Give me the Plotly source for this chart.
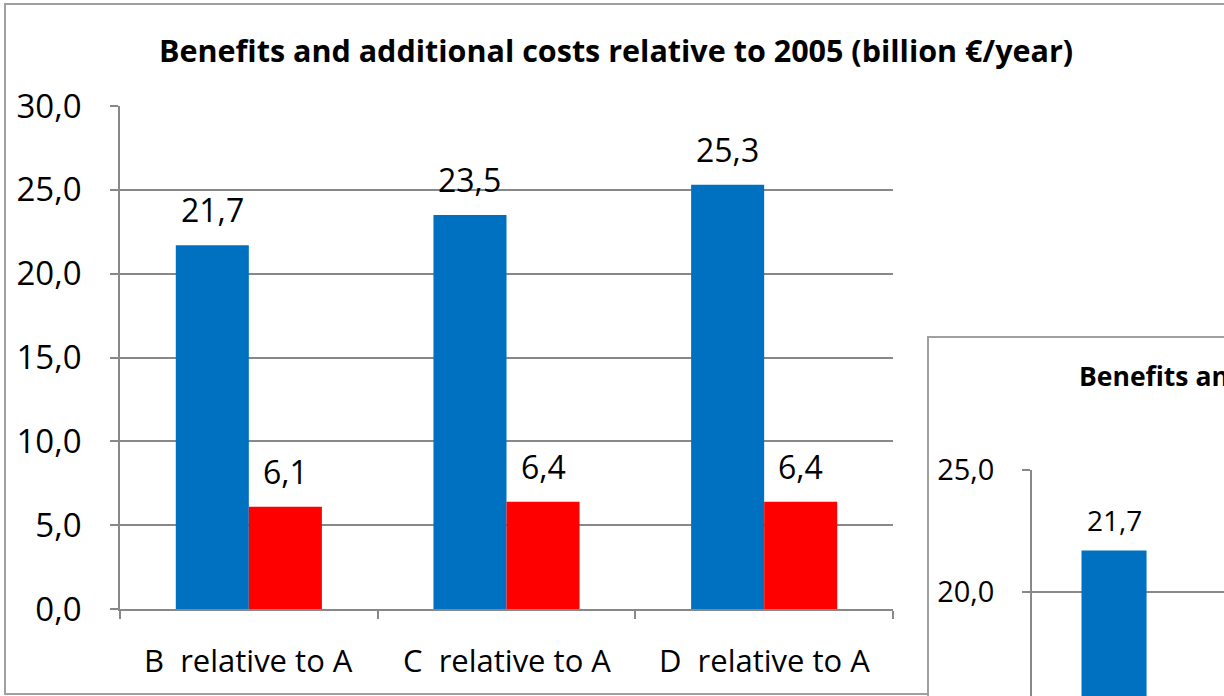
import plotly.graph_objects as go

W, H = 1224, 696

# Main chart data
categories = ["B  relative to A", "C  relative to A", "D  relative to A"]
benefits = [21.7, 23.5, 25.3]
additional_costs = [6.1, 6.4, 6.4]

# Second (overlapping) chart data, only the first bar falls inside the page
categories_2 = ["B  relative to A"]
benefits_2 = [21.7]

title_text = "Benefits and additional costs relative to 2005 (billion €/year)"

BLUE = "#0070C0"
RED = "#FF0000"
GRID = "#888888"
FRAME = "#A0A0A0"
FONT = "'Open Sans', Lato, sans-serif"


def px_x(x):
    return x / W


def px_y(y):
    return 1 - y / H


def fmt(v):
    return f"{v:.1f}".replace(".", ",")


fig = go.Figure()

fig.add_trace(go.Bar(x=categories, y=benefits, marker=dict(color=BLUE, line=dict(width=0)),
                     xaxis="x", yaxis="y", name="Benefits"))
fig.add_trace(go.Bar(x=categories, y=additional_costs, marker=dict(color=RED, line=dict(width=0)),
                     xaxis="x", yaxis="y", name="Additional costs"))

# Second chart: bar occupies the left half of its category slot
fig.add_trace(go.Bar(x=categories_2, y=benefits_2, marker=dict(color=BLUE, line=dict(width=0)),
                     width=0.284, offset=-0.284, xaxis="x2", yaxis="y2", name="Benefits"))

annotations = []
# Value labels above the main bars
for i, (b, c) in enumerate(zip(benefits, additional_costs)):
    annotations.append(dict(x=i - 0.142, y=b, xref="x", yref="y", text=fmt(b), showarrow=False,
                            yanchor="bottom", yshift=12, font=dict(size=32, color="black", family=FONT)))
    annotations.append(dict(x=i + 0.142, y=c, xref="x", yref="y", text=fmt(c), showarrow=False,
                            yanchor="bottom", yshift=12, font=dict(size=32, color="black", family=FONT)))
for i, b in enumerate(benefits_2):
    annotations.append(dict(x=i - 0.142, y=b, xref="x2", yref="y2", text=fmt(b), showarrow=False,
                            yanchor="bottom", yshift=10, font=dict(size=28, color="black", family=FONT)))

# Titles
annotations.append(dict(x=px_x(616), y=px_y(50), xref="paper", yref="paper", text=f"<b>{title_text}</b>",
                        showarrow=False, xanchor="center", yanchor="middle",
                        font=dict(size=30.5, color="black", family=FONT)))
annotations.append(dict(x=px_x(1077), y=px_y(376), xref="paper", yref="paper", text=f"<b>{title_text}</b>",
                        showarrow=False, xanchor="left", yanchor="middle",
                        font=dict(size=26.5, color="black", family=FONT)))

shapes = [
    # outer frame of the main chart
    dict(type="rect", xref="paper", yref="paper", x0=px_x(5), x1=px_x(1240), y0=px_y(694), y1=px_y(4),
         line=dict(color=FRAME, width=2), fillcolor="white", layer="below"),
    # frame of the second chart, on top of the first
    dict(type="rect", xref="paper", yref="paper", x0=px_x(928), x1=px_x(1260), y0=px_y(720), y1=px_y(337),
         line=dict(color=FRAME, width=2), fillcolor="white", layer="below"),
]

axis_common = dict(showline=True, linecolor=GRID, linewidth=1.5, ticks="outside", tickcolor=GRID,
                   tickwidth=1.5, ticklen=8, zeroline=False, automargin=False)

fig.update_layout(
    template="none",
    width=W, height=H,
    autosize=False,
    margin=dict(l=0, r=0, t=0, b=0, pad=0, autoexpand=False),
    paper_bgcolor="white", plot_bgcolor="rgba(0,0,0,0)",
    separators=",.",
    showlegend=False,
    barmode="group", bargap=0.433, bargroupgap=0,
    font=dict(family=FONT, color="black"),
    xaxis=dict(domain=[px_x(120), px_x(893)], range=[-0.5, 2.5], anchor="y",
               showgrid=False, showticklabels=False,
               tickmode="array", tickvals=[-0.5, 0.5, 1.5, 2.5],
               **axis_common),
    yaxis=dict(domain=[px_y(609), px_y(106)], range=[0, 30], dtick=5, tickformat=".1f",
               tickfont=dict(size=33), showgrid=True, gridcolor=GRID, gridwidth=1.5,
               ticklabelstandoff=22, anchor="x", **axis_common),
    xaxis2=dict(domain=[px_x(1032), 1], range=[-0.5, 0.338], anchor="y2", automargin=False,
                showticklabels=False, showgrid=False, showline=False, zeroline=False, ticks=""),
    yaxis2=dict(domain=[0, px_y(470)], range=[15.74, 25], dtick=5, tickformat=".1f",
                tickfont=dict(size=29), showgrid=True, gridcolor=GRID, gridwidth=1.5,
                ticklabelstandoff=22, anchor="x2", **axis_common),
    annotations=annotations,
    shapes=shapes,
)

# Category labels under the main x axis
for i, cat in enumerate(categories):
    fig.add_annotation(x=i, y=px_y(660), xref="x", yref="paper", text=cat.replace("  ", "\u00a0\u00a0"),
                       showarrow=False, yanchor="middle", font=dict(size=31, color="black", family=FONT))

fig.write_html("out.html")
